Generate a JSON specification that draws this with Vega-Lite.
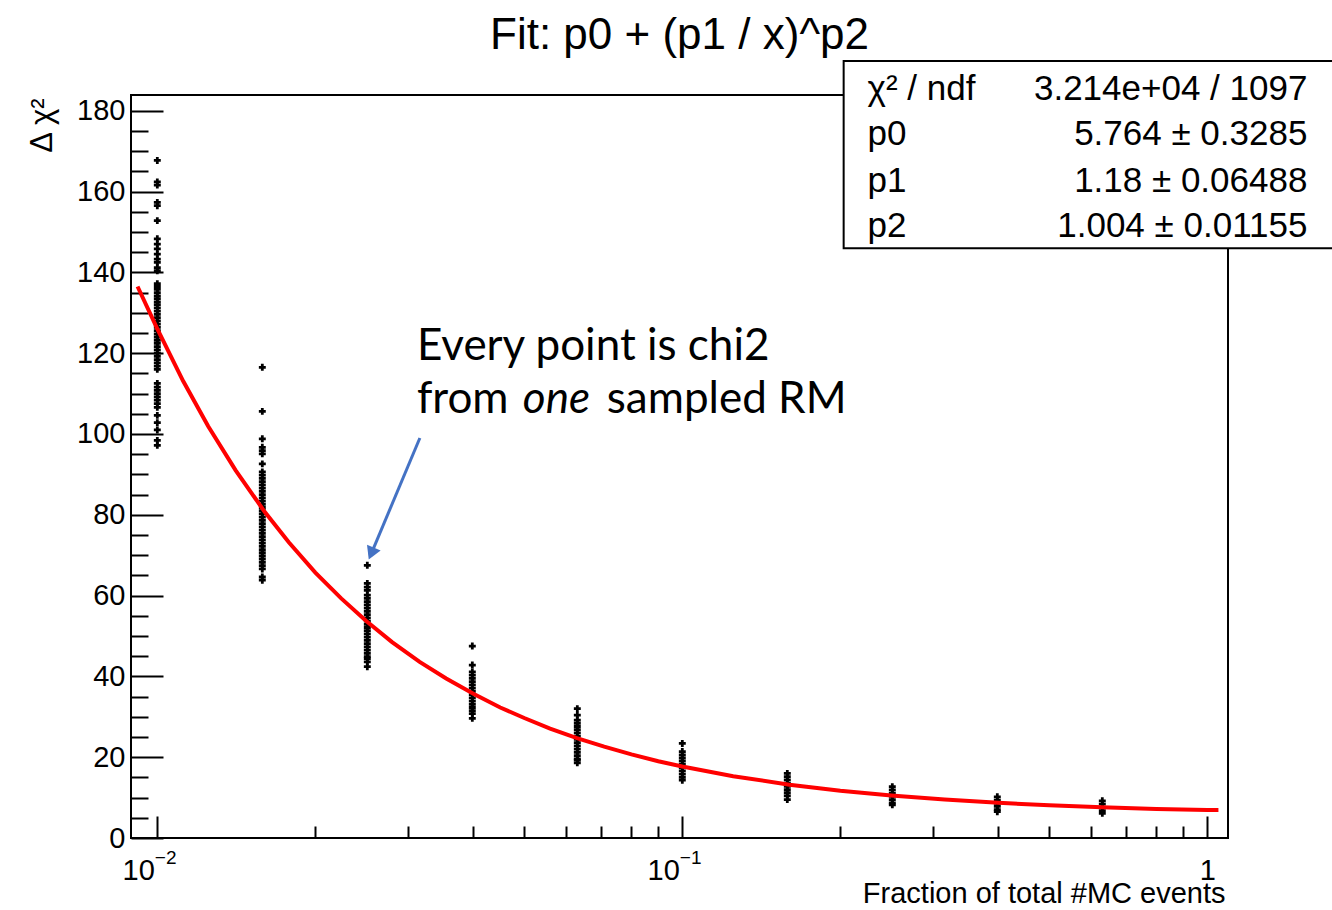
{
  "$schema": "https://vega.github.io/schema/vega-lite/v6.json",
  "width": 1097,
  "height": 743,
  "autosize": {"type": "none"},
  "padding": {"left": 131, "top": 95, "right": 104, "bottom": 72},
  "background": "white",
  "config": {"view": {"stroke": "black", "strokeWidth": 2}, "font": "Liberation Sans"},
  "title": {"text": "Fit: p0 + (p1 / x)^p2", "fontSize": 44, "font": "Liberation Sans", "fontWeight": "normal", "anchor": "middle", "baseline": "alphabetic", "offset": 0, "dy": 33, "color": "black"},
  "datasets": {
    "pts": [
      {"x":0.01,"y":167.7},{"x":0.01,"y":162.4},{"x":0.01,"y":161.6},{"x":0.01,"y":157.3},{"x":0.01,"y":156.5},{"x":0.01,"y":152.8},{"x":0.01,"y":148.3},{"x":0.01,"y":147.0},{"x":0.01,"y":145.8},{"x":0.01,"y":144.5},{"x":0.01,"y":143.3},{"x":0.01,"y":142.5},{"x":0.01,"y":141.2},{"x":0.01,"y":140.4},{"x":0.01,"y":137.2},{"x":0.01,"y":136.5},{"x":0.01,"y":135.8},{"x":0.01,"y":135.0},{"x":0.01,"y":134.2},{"x":0.01,"y":133.5},{"x":0.01,"y":132.7},{"x":0.01,"y":132.0},{"x":0.01,"y":131.2},{"x":0.01,"y":130.4},{"x":0.01,"y":129.6},{"x":0.01,"y":128.8},{"x":0.01,"y":128.0},{"x":0.01,"y":127.2},{"x":0.01,"y":126.4},{"x":0.01,"y":125.6},{"x":0.01,"y":124.8},{"x":0.01,"y":124.0},{"x":0.01,"y":123.2},{"x":0.01,"y":122.4},{"x":0.01,"y":121.6},{"x":0.01,"y":120.8},{"x":0.01,"y":120.0},{"x":0.01,"y":119.2},{"x":0.01,"y":118.4},{"x":0.01,"y":117.6},{"x":0.01,"y":116.8},{"x":0.01,"y":116.0},{"x":0.01,"y":112.5},{"x":0.01,"y":111.6},{"x":0.01,"y":110.8},{"x":0.01,"y":110.0},{"x":0.01,"y":109.2},{"x":0.01,"y":108.4},{"x":0.01,"y":107.5},{"x":0.01,"y":106.6},{"x":0.01,"y":104.6},{"x":0.01,"y":102.8},{"x":0.01,"y":101.0},{"x":0.01,"y":98.4},{"x":0.01,"y":97.2},
      {"x":0.015849,"y":116.5},{"x":0.015849,"y":105.6},{"x":0.015849,"y":98.8},{"x":0.015849,"y":96.7},{"x":0.015849,"y":95.9},{"x":0.015849,"y":95.1},{"x":0.015849,"y":92.6},{"x":0.015849,"y":90.6},{"x":0.015849,"y":89.8},{"x":0.015849,"y":89.0},{"x":0.015849,"y":88.2},{"x":0.015849,"y":87.4},{"x":0.015849,"y":86.6},{"x":0.015849,"y":85.8},{"x":0.015849,"y":85.0},{"x":0.015849,"y":84.2},{"x":0.015849,"y":83.4},{"x":0.015849,"y":82.6},{"x":0.015849,"y":81.8},{"x":0.015849,"y":81.0},{"x":0.015849,"y":80.2},{"x":0.015849,"y":79.4},{"x":0.015849,"y":78.6},{"x":0.015849,"y":77.8},{"x":0.015849,"y":77.0},{"x":0.015849,"y":76.2},{"x":0.015849,"y":75.4},{"x":0.015849,"y":74.6},{"x":0.015849,"y":73.8},{"x":0.015849,"y":73.0},{"x":0.015849,"y":72.2},{"x":0.015849,"y":71.4},{"x":0.015849,"y":70.6},{"x":0.015849,"y":69.8},{"x":0.015849,"y":69.0},{"x":0.015849,"y":68.2},{"x":0.015849,"y":67.4},{"x":0.015849,"y":66.6},{"x":0.015849,"y":64.6},{"x":0.015849,"y":63.8},
      {"x":0.025119,"y":67.5},{"x":0.025119,"y":63.0},{"x":0.025119,"y":62.1},{"x":0.025119,"y":61.3},{"x":0.025119,"y":60.1},{"x":0.025119,"y":59.3},{"x":0.025119,"y":58.5},{"x":0.025119,"y":57.7},{"x":0.025119,"y":56.9},{"x":0.025119,"y":56.1},{"x":0.025119,"y":55.3},{"x":0.025119,"y":54.5},{"x":0.025119,"y":53.7},{"x":0.025119,"y":52.9},{"x":0.025119,"y":52.1},{"x":0.025119,"y":51.3},{"x":0.025119,"y":50.5},{"x":0.025119,"y":49.7},{"x":0.025119,"y":48.9},{"x":0.025119,"y":48.1},{"x":0.025119,"y":47.3},{"x":0.025119,"y":46.5},{"x":0.025119,"y":45.7},{"x":0.025119,"y":44.9},{"x":0.025119,"y":44.4},{"x":0.025119,"y":43.6},{"x":0.025119,"y":42.4},
      {"x":0.039811,"y":47.5},{"x":0.039811,"y":42.8},{"x":0.039811,"y":41.1},{"x":0.039811,"y":40.3},{"x":0.039811,"y":39.5},{"x":0.039811,"y":38.7},{"x":0.039811,"y":37.9},{"x":0.039811,"y":37.1},{"x":0.039811,"y":36.3},{"x":0.039811,"y":35.5},{"x":0.039811,"y":34.7},{"x":0.039811,"y":33.9},{"x":0.039811,"y":33.1},{"x":0.039811,"y":32.3},{"x":0.039811,"y":31.5},{"x":0.039811,"y":30.8},{"x":0.039811,"y":29.6},
      {"x":0.063096,"y":32.0},{"x":0.063096,"y":30.4},{"x":0.063096,"y":29.2},{"x":0.063096,"y":28.4},{"x":0.063096,"y":27.6},{"x":0.063096,"y":26.8},{"x":0.063096,"y":26.0},{"x":0.063096,"y":25.2},{"x":0.063096,"y":24.4},{"x":0.063096,"y":23.6},{"x":0.063096,"y":22.8},{"x":0.063096,"y":22.0},{"x":0.063096,"y":21.2},{"x":0.063096,"y":20.4},{"x":0.063096,"y":19.6},{"x":0.063096,"y":19.3},{"x":0.063096,"y":18.6},
      {"x":0.1,"y":23.4},{"x":0.1,"y":21.4},{"x":0.1,"y":20.6},{"x":0.1,"y":19.8},{"x":0.1,"y":19.0},{"x":0.1,"y":18.2},{"x":0.1,"y":17.4},{"x":0.1,"y":16.6},{"x":0.1,"y":15.8},{"x":0.1,"y":15.0},{"x":0.1,"y":14.3},
      {"x":0.15849,"y":16.0},{"x":0.15849,"y":15.2},{"x":0.15849,"y":14.4},{"x":0.15849,"y":13.6},{"x":0.15849,"y":12.8},{"x":0.15849,"y":12.0},{"x":0.15849,"y":11.2},{"x":0.15849,"y":10.4},{"x":0.15849,"y":9.5},
      {"x":0.25119,"y":12.7},{"x":0.25119,"y":11.9},{"x":0.25119,"y":11.1},{"x":0.25119,"y":10.3},{"x":0.25119,"y":9.5},{"x":0.25119,"y":8.7},{"x":0.25119,"y":8.2},
      {"x":0.39811,"y":10.2},{"x":0.39811,"y":9.4},{"x":0.39811,"y":8.6},{"x":0.39811,"y":7.8},{"x":0.39811,"y":7.0},{"x":0.39811,"y":6.5},
      {"x":0.63096,"y":9.2},{"x":0.63096,"y":8.4},{"x":0.63096,"y":7.6},{"x":0.63096,"y":6.8},{"x":0.63096,"y":6.1}
    ],
    "fit": [
      {"x":0.00917,"y":136.5},{"x":0.01,"y":126.0},{"x":0.0112,"y":113.1},{"x":0.0125,"y":101.9},{"x":0.0141,"y":91.0},{"x":0.016,"y":80.8},{"x":0.0178,"y":73.2},{"x":0.02,"y":65.7},{"x":0.0224,"y":59.3},{"x":0.025,"y":53.7},{"x":0.028,"y":48.5},{"x":0.0316,"y":43.6},{"x":0.0355,"y":39.5},{"x":0.04,"y":35.7},{"x":0.045,"y":32.3},{"x":0.05,"y":29.7},{"x":0.056,"y":27.1},{"x":0.063,"y":24.7},{"x":0.071,"y":22.6},{"x":0.08,"y":20.7},{"x":0.09,"y":19.0},{"x":0.1,"y":17.7},{"x":0.125,"y":15.3},{"x":0.16,"y":13.2},{"x":0.2,"y":11.7},{"x":0.25,"y":10.5},{"x":0.316,"y":9.5},{"x":0.4,"y":8.7},{"x":0.5,"y":8.1},{"x":0.63,"y":7.6},{"x":0.8,"y":7.2},{"x":1.0,"y":6.9},{"x":1.05,"y":6.9}
    ],
    "arrow": [{"x":0.03163,"y":99.0,"x2":0.025655,"y2":70.9}],
    "head": [{"x":0.025655,"y":70.9}],
    "note1": [{"x":0.03122,"y":118.3,"t":"Every point is chi2"}],
    "note2": [{"x":0.03122,"y":105.2,"t":"from"},{"x":0.07180,"y":105.2,"t":"sampled RM"}],
    "note3": [{"x":0.04969,"y":105.2,"t":"one"}],
    "box": [{"x":0.20292,"x2":1.75,"y":192.3,"y2":146.0}],
    "statl": [{"x":0.22541,"y":182.6,"t":"χ² / ndf"},{"x":0.22541,"y":171.5,"t":"p0"},{"x":0.22541,"y":159.9,"t":"p1"},{"x":0.22541,"y":148.7,"t":"p2"}],
    "statv": [{"x":1.5513,"y":182.6,"t":"3.214e+04 / 1097"},{"x":1.5513,"y":171.5,"t":"5.764 ± 0.3285"},{"x":1.5513,"y":159.9,"t":"1.18 ± 0.06488"},{"x":1.5513,"y":148.7,"t":"1.004 ± 0.01155"}]
  },
  "layer": [
    {
      "data": {"name": "pts"},
      "mark": {"type": "point", "shape": "cross", "filled": true, "size": 48, "color": "black", "opacity": 1},
      "encoding": {
        "x": {"field": "x", "type": "quantitative", "scale": {"type": "log", "domain": [0.00891, 1.095], "nice": false},
          "axis": {"orient": "bottom", "values": [0.01, 0.1, 1], "labelExpr": "datum.value < 0.5 ? '10' : '1'", "labelAlign": {"condition": {"test": "datum.value > 0.5", "value": "center"}, "value": "right"}, "labelOffset": {"condition": {"test": "datum.value > 0.5", "value": 0}, "value": -3}, "tickSize": -22, "tickWidth": 2, "tickColor": "black", "domain": false, "grid": false, "labelFontSize": 29, "labelFont": "Liberation Sans", "labelColor": "black", "labelPadding": 40, "labelFlush": false, "labelOverlap": false,
            "title": "Fraction of total #MC events", "titleFont": "Liberation Sans", "titleFontSize": 29, "titleFontWeight": "normal", "titleColor": "black", "titleAnchor": "end", "titleAlign": "right", "titleBaseline": "alphabetic", "titleX": 1094, "titleY": 64}},
        "y": {"field": "y", "type": "quantitative", "scale": {"domain": [0, 183.9], "nice": false, "zero": false},
          "axis": {"orient": "left", "values": [0, 20, 40, 60, 80, 100, 120, 140, 160, 180], "tickSize": -32, "tickWidth": 2, "tickColor": "black", "domain": false, "grid": false, "labelFontSize": 29, "labelFont": "Liberation Sans", "labelColor": "black", "labelPadding": 38, "labelFlush": false, "labelOverlap": false,
            "title": "Δ χ²", "titleFont": "Liberation Sans", "titleFontSize": 31, "titleFontWeight": "normal", "titleColor": "black", "titleAngle": 270, "titleAlign": "right", "titleBaseline": "middle", "titleX": -89, "titleY": 3}}
      }
    },
    {
      "data": {"name": "fit"},
      "mark": {"type": "line", "color": "#ff0000", "strokeWidth": 4},
      "encoding": {
        "x": {"field": "x", "type": "quantitative", "scale": {"type": "log", "domain": [0.00891, 1.095], "nice": false},
          "axis": {"orient": "bottom", "values": [0.02, 0.03, 0.04, 0.05, 0.06, 0.07, 0.08, 0.09, 0.2, 0.3, 0.4, 0.5, 0.6, 0.7, 0.8, 0.9], "tickSize": -12, "tickWidth": 2, "tickColor": "black", "domain": false, "grid": false, "labels": false, "title": null}},
        "y": {"field": "y", "type": "quantitative", "scale": {"domain": [0, 183.9], "nice": false, "zero": false},
          "axis": {"orient": "left", "values": [5, 10, 15, 25, 30, 35, 45, 50, 55, 65, 70, 75, 85, 90, 95, 105, 110, 115, 125, 130, 135, 145, 150, 155, 165, 170, 175], "tickSize": -17, "tickWidth": 2, "tickColor": "black", "domain": false, "grid": false, "labels": false, "title": null}}
      }
    },
    {
      "data": {"name": "arrow"},
      "mark": {"type": "rule", "color": "#4472C4", "strokeWidth": 3},
      "encoding": {
        "x": {"field": "x", "type": "quantitative", "scale": {"type": "log", "domain": [0.00891, 1.095], "nice": false},
          "axis": {"orient": "bottom", "values": [0.01, 0.1], "labelExpr": "datum.value < 0.05 ? '−2' : '−1'", "labelAlign": "left", "labelOffset": -3, "tickSize": -22, "tickOpacity": 0, "domain": false, "grid": false, "labelFontSize": 19, "labelFont": "Liberation Sans", "labelColor": "black", "labelPadding": 32, "labelFlush": false, "labelOverlap": false, "title": null}},
        "y": {"field": "y", "type": "quantitative", "scale": {"domain": [0, 183.9], "nice": false, "zero": false}, "axis": null},
        "x2": {"field": "x2"},
        "y2": {"field": "y2"}
      }
    },
    {
      "data": {"name": "head"},
      "mark": {"type": "point", "shape": "triangle", "filled": true, "size": 220, "color": "#4472C4", "opacity": 1, "angle": 203.4},
      "encoding": {
        "x": {"field": "x", "type": "quantitative", "scale": {"type": "log", "domain": [0.00891, 1.095], "nice": false}, "axis": null},
        "y": {"field": "y", "type": "quantitative", "scale": {"domain": [0, 183.9], "nice": false, "zero": false}, "axis": null}
      }
    },
    {
      "data": {"name": "note1"},
      "mark": {"type": "text", "font": "Lato", "fontSize": 44, "align": "left", "baseline": "alphabetic", "color": "black"},
      "encoding": {
        "x": {"field": "x", "type": "quantitative", "scale": {"type": "log", "domain": [0.00891, 1.095], "nice": false}, "axis": null},
        "y": {"field": "y", "type": "quantitative", "scale": {"domain": [0, 183.9], "nice": false, "zero": false}, "axis": null},
        "text": {"field": "t"}
      }
    },
    {
      "data": {"name": "note2"},
      "mark": {"type": "text", "font": "Lato", "fontSize": 44, "align": "left", "baseline": "alphabetic", "color": "black"},
      "encoding": {
        "x": {"field": "x", "type": "quantitative", "scale": {"type": "log", "domain": [0.00891, 1.095], "nice": false}, "axis": null},
        "y": {"field": "y", "type": "quantitative", "scale": {"domain": [0, 183.9], "nice": false, "zero": false}, "axis": null},
        "text": {"field": "t"}
      }
    },
    {
      "data": {"name": "note3"},
      "mark": {"type": "text", "font": "Lato", "fontSize": 44, "fontStyle": "italic", "align": "left", "baseline": "alphabetic", "color": "black"},
      "encoding": {
        "x": {"field": "x", "type": "quantitative", "scale": {"type": "log", "domain": [0.00891, 1.095], "nice": false}, "axis": null},
        "y": {"field": "y", "type": "quantitative", "scale": {"domain": [0, 183.9], "nice": false, "zero": false}, "axis": null},
        "text": {"field": "t"}
      }
    },
    {
      "data": {"name": "box"},
      "mark": {"type": "rect", "fill": "white", "stroke": "black", "strokeWidth": 2, "clip": false},
      "encoding": {
        "x": {"field": "x", "type": "quantitative", "scale": {"type": "log", "domain": [0.00891, 1.095], "nice": false}, "axis": null},
        "y": {"field": "y", "type": "quantitative", "scale": {"domain": [0, 183.9], "nice": false, "zero": false}, "axis": null},
        "x2": {"field": "x2"},
        "y2": {"field": "y2"}
      }
    },
    {
      "data": {"name": "statl"},
      "mark": {"type": "text", "font": "Liberation Sans", "fontSize": 35, "align": "left", "baseline": "alphabetic", "color": "black"},
      "encoding": {
        "x": {"field": "x", "type": "quantitative", "scale": {"type": "log", "domain": [0.00891, 1.095], "nice": false}, "axis": null},
        "y": {"field": "y", "type": "quantitative", "scale": {"domain": [0, 183.9], "nice": false, "zero": false}, "axis": null},
        "text": {"field": "t"}
      }
    },
    {
      "data": {"name": "statv"},
      "mark": {"type": "text", "font": "Liberation Sans", "fontSize": 35, "align": "right", "baseline": "alphabetic", "color": "black"},
      "encoding": {
        "x": {"field": "x", "type": "quantitative", "scale": {"type": "log", "domain": [0.00891, 1.095], "nice": false}, "axis": null},
        "y": {"field": "y", "type": "quantitative", "scale": {"domain": [0, 183.9], "nice": false, "zero": false}, "axis": null},
        "text": {"field": "t"}
      }
    }
  ],
  "resolve": {"axis": {"x": "independent", "y": "independent"}}
}
